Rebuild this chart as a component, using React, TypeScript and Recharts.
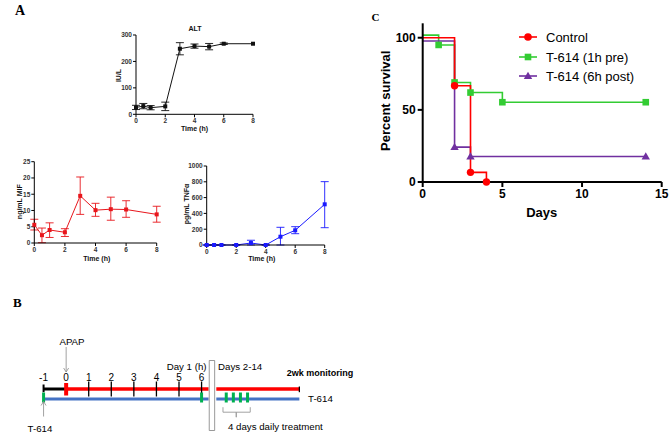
import React from "react";
import { ComposedChart, LineChart, Line, Scatter, XAxis, YAxis, ErrorBar } from "recharts";

// Panel A: time course after APAP (hours)
const hours = [0, 0.5, 1, 2, 3, 4, 5, 6, 8];
const altMean = [26, 31, 25, 30, 248, 258, 256, 267, 267];
const altSem = [8, 10, 8, 16, 23, 8, 12, 3, 0];
const mifMean = [5.6, 2.4, 4.0, 3.3, 14.5, 10.1, 10.4, 10.3, 8.8];
const mifLow = [4.0, 0.1, 1.7, 2.0, 8.8, 8.2, 7.0, 7.9, 6.4];
const mifHigh = [7.3, 4.6, 6.2, 4.4, 20.3, 12.2, 14.1, 13.0, 11.3];
const tnfMean = [0, 0, 0, 0, 25, 0, 105, 186, 515];
const tnfLow = [0, 0, 0, 0, 0, 0, 0, 143, 219];
const tnfHigh = [0, 0, 0, 0, 60, 0, 224, 232, 802];
const timeTicks = [0, 2, 4, 6, 8];

// Panel C: Kaplan-Meier survival (days, %)
const controlDays = [0, 2, 3, 4];
const controlPct = [100, 66.7, 6.7, 0];
const preDays = [0, 1, 2, 3, 5, 14];
const prePct = [101.8, 95, 69, 62, 55.3, 55.3];
const postDays = [0, 2, 3, 14];
const postPct = [97.7, 24.2, 17.7, 17.7];

// Panel B: dosing schedule
const hourTicks = [-1, 0, 1, 2, 3, 4, 5, 6];
const hourDoses = [-1, 6]; // T-614, hours
const dailyDoses = [2, 3, 4, 5]; // T-614, days
const breakStart = 6.34; // hours
const breakEnd = 6.58;
const daysStart = 0.6; // days, right after the break
const monitorEnd = 12.3;

const APAP_ROW = 1;
const T614_ROW = 0;

const SANS = "Arial, 'Liberation Sans', sans-serif";

const altRows = hours.map((h, i) => ({ h, mean: altMean[i], err: altSem[i] }));
const mifRows = hours.map((h, i) => ({
  h,
  mean: mifMean[i],
  err: [mifMean[i] - mifLow[i], mifHigh[i] - mifMean[i]],
}));
const tnfRows = hours.map((h, i) => ({
  h,
  mean: tnfMean[i],
  err: [tnfMean[i] - tnfLow[i], tnfHigh[i] - tnfMean[i]],
}));

const toRows = (days: number[], pct: number[]) => days.map((day, i) => ({ day, pct: pct[i] }));
const controlRows = toRows(controlDays, controlPct);
const preRows = toRows(preDays, prePct);
const postRows = toRows(postDays, postPct);

const squareDot = (color: string, s: number) => (p: any) => (
  <rect key={p.index} x={p.cx - s / 2} y={p.cy - s / 2} width={s} height={s} fill={color} />
);

// survival markers, skipping the starting point at day 0
const kmDot = (kind: string, color: string) => (p: any) => {
  if (p.index === 0) return <g key={p.index} />;
  if (kind === "circle") return <circle key={p.index} cx={p.cx} cy={p.cy} r={3.7} fill={color} />;
  if (kind === "square")
    return <rect key={p.index} x={p.cx - 3.3} y={p.cy - 3.3} width={6.6} height={6.6} fill={color} />;
  return (
    <path
      key={p.index}
      d={`M${p.cx},${p.cy - 4.2} L${p.cx + 4.2},${p.cy + 3} L${p.cx - 4.2},${p.cy + 3} Z`}
      fill={color}
    />
  );
};

const smallTick = { fontSize: 6.5, fill: "#333", fontWeight: "bold" as const, fontFamily: SANS };

function TimeCourse(props: any) {
  const { rows, color, yMax, yTicks, left, top, width, height, mTop, mLeft, mRight } = props;
  return (
    <div style={{ position: "absolute", left, top }}>
      <LineChart
        width={width}
        height={height}
        data={rows}
        margin={{ top: mTop, right: mRight, bottom: 0, left: mLeft }}
      >
        <XAxis
          dataKey="h"
          type="number"
          domain={[0, 8]}
          ticks={timeTicks}
          height={12}
          tickSize={3}
          tickMargin={1}
          axisLine={{ stroke: "#000" }}
          tickLine={{ stroke: "#000" }}
          tick={smallTick}
        />
        <YAxis
          type="number"
          domain={[0, yMax]}
          ticks={yTicks}
          width={30}
          tickSize={3}
          tickMargin={1}
          axisLine={{ stroke: "#000" }}
          tickLine={{ stroke: "#000" }}
          tick={smallTick}
        />
        <Line
          dataKey="mean"
          stroke={color}
          strokeWidth={1}
          isAnimationActive={false}
          dot={squareDot(color, 4)}
        >
          <ErrorBar dataKey="err" width={4} stroke={color} strokeWidth={0.9} />
        </Line>
      </LineChart>
    </div>
  );
}

const GREY = "#8a8a8a";
const arrowHead = (dir: number) => (p: any) =>
  p.index === 1 ? (
    <path
      key={p.index}
      d={`M${p.cx - 2.5},${p.cy - 4 * dir} L${p.cx},${p.cy} L${p.cx + 2.5},${p.cy - 4 * dir}`}
      fill="none"
      stroke={GREY}
      strokeWidth={0.8}
    />
  ) : (
    <g key={p.index} />
  );

const hourLabel = (p: any) => (
  <text
    x={p.cx}
    y={p.cy}
    textAnchor="middle"
    dominantBaseline="central"
    fontSize={10}
    fontFamily={SANS}
    fill="#000"
  >
    {p.payload.x}
  </text>
);

function Schedule() {
  let n = 0;
  const seg = (axis: string, pts: number[][], stroke: string, w: number, dot: any = false) => (
    <Line
      key={`s${n++}`}
      xAxisId={axis}
      data={pts.map(([x, y]) => ({ x, y }))}
      dataKey="y"
      stroke={stroke}
      strokeWidth={w}
      dot={dot}
      activeDot={false}
      isAnimationActive={false}
    />
  );
  return (
    <div style={{ position: "absolute", left: 20.73, top: 298.5 }}>
      <ComposedChart width={316} height={140} margin={{ top: 0, right: 0, bottom: 0, left: 0 }}>
        <XAxis xAxisId="h" dataKey="x" type="number" domain={[-2, 12]} hide allowDataOverflow />
        <XAxis xAxisId="d" dataKey="x" type="number" domain={[-26.91, 17.6]} hide allowDataOverflow />
        <YAxis dataKey="y" type="number" domain={[-4, 10]} hide allowDataOverflow />

        {/* APAP row: pre-treatment hour, then injury phase */}
        {seg("h", [[-1, APAP_ROW], [0, APAP_ROW]], "#000", 3)}
        {seg("h", [[0, APAP_ROW], [breakStart - 0.03, APAP_ROW]], "#ff0000", 3.5)}
        {seg("d", [[daysStart, APAP_ROW], [monitorEnd, APAP_ROW]], "#ff0000", 3.5)}
        {/* T-614 row */}
        {seg("h", [[-1, T614_ROW], [breakStart - 0.03, T614_ROW]], "#4472c4", 3)}
        {seg("d", [[daysStart, T614_ROW], [monitorEnd, T614_ROW]], "#4472c4", 3)}

        {/* hour ticks */}
        {hourTicks.filter((h) => h > 0).map((h) => seg("h", [[h, 0.25], [h, 1.75]], "#000", 1.3))}
        {seg("h", [[-1, 0.68], [-1, 1.45]], "#000", 2)}
        {seg("h", [[0, 0.35], [0, 1.6]], "#ff0000", 4)}
        {seg("d", [[monitorEnd, 0.68], [monitorEnd, 1.25]], "#000", 1.3)}

        {/* T-614 doses */}
        {hourDoses.map((h) => seg("h", [[h, -0.35], [h, 0.65]], "#00b050", 3))}
        {dailyDoses.map((d) => seg("d", [[d, -0.35], [d, 0.65]], "#00b050", 3))}

        {/* break between day 1 and days 2-14 */}
        {seg(
          "h",
          [
            [breakStart, -3.15],
            [breakEnd, -3.15],
            [breakEnd, 3.85],
            [breakStart, 3.85],
            [breakStart, -3.15],
          ],
          "#7f7f7f",
          0.8
        )}

        {/* arrows */}
        {seg("h", [[0, 5.2], [0, 2.7]], GREY, 0.8, arrowHead(1))}
        {seg("h", [[-1, -1.75], [-1, -0.25]], GREY, 0.8, arrowHead(-1))}

        {/* bracket under the daily doses */}
        {seg(
          "d",
          [
            [1.54, -0.82],
            [1.54, -1.32],
            [3.41, -1.32],
            [3.41, -1.82],
            [3.41, -1.32],
            [5.38, -1.32],
            [5.38, -0.82],
          ],
          "#999",
          0.9
        )}

        {/* hour labels */}
        <Scatter
          xAxisId="h"
          data={hourTicks.map((h) => ({ x: h, y: 2.15 }))}
          dataKey="y"
          shape={hourLabel}
          isAnimationActive={false}
        />
      </ComposedChart>
    </div>
  );
}

function Survival() {
  const axisLine = { stroke: "#000", strokeWidth: 2 };
  const tick = { fontSize: 12, fontWeight: "bold" as const, fill: "#000", fontFamily: SANS };
  return (
    <div style={{ position: "absolute", left: 370, top: 15 }}>
      <ComposedChart width={299} height={210} margin={{ top: 8.3, right: 7.3, bottom: 18, left: 22.7 }}>
        <XAxis
          dataKey="day"
          type="number"
          domain={[0, 15]}
          ticks={[0, 5, 10, 15]}
          height={25}
          tickSize={5}
          axisLine={axisLine}
          tickLine={axisLine}
          tick={tick}
          allowDuplicatedCategory={false}
        />
        <YAxis
          type="number"
          domain={[0, 110]}
          ticks={[0, 50, 100]}
          width={30}
          tickSize={5}
          axisLine={axisLine}
          tickLine={axisLine}
          tick={tick}
        />
        <Line data={preRows} dataKey="pct" type="stepAfter" stroke="#33cc33" strokeWidth={1.6} isAnimationActive={false} dot={kmDot("square", "#33cc33")} />
        <Line data={postRows} dataKey="pct" type="stepAfter" stroke="#7030a0" strokeWidth={1.6} isAnimationActive={false} dot={kmDot("triangle", "#7030a0")} />
        <Line data={controlRows} dataKey="pct" type="stepAfter" stroke="#ff0000" strokeWidth={1.6} isAnimationActive={false} dot={kmDot("circle", "#ff0000")} />
      </ComposedChart>
    </div>
  );
}

const legendItems = [
  { name: "Control", color: "#ff0000", kind: "circle", y: 37 },
  { name: "T-614 (1h pre)", color: "#33cc33", kind: "square", y: 57 },
  { name: "T-614 (6h post)", color: "#7030a0", kind: "triangle", y: 76 },
];

export default function App() {
  return (
    <div
      style={{
        position: "absolute",
        left: 0,
        top: 0,
        width: 669,
        height: 439,
        background: "#fff",
        overflow: "hidden",
        fontFamily: SANS,
      }}
    >
      <TimeCourse rows={altRows} color="#111" yMax={300} yTicks={[0, 100, 200, 300]} left={100} top={25} width={160} height={101.3} mTop={10} mLeft={6} mRight={7} />
      <TimeCourse rows={mifRows} color="#e8161c" yMax={25} yTicks={[0, 5, 10, 15, 20, 25]} left={0} top={152} width={162} height={103} mTop={9.7} mLeft={4.3} mRight={5.3} />
      <TimeCourse rows={tnfRows} color="#1a1aff" yMax={1000} yTicks={[0, 200, 400, 600, 800, 1000]} left={172} top={158} width={158} height={99} mTop={8} mLeft={4.7} mRight={5.3} />
      <Schedule />
      <Survival />

      <svg width={669} height={439} style={{ position: "absolute", left: 0, top: 0, pointerEvents: "none" }}>
        {/* panel letters */}
        <g fontFamily="'Liberation Serif', 'Times New Roman', serif" fontWeight="bold" fill="#000">
          <text x={15} y={14.5} fontSize={14}>A</text>
          <text x={13} y={307} fontSize={13}>B</text>
          <text x={371.5} y={20.5} fontSize={11}>C</text>
        </g>

        {/* panel A labels */}
        <g fontFamily={SANS} fontWeight="bold" fontSize={7} fill="#111" textAnchor="middle" dominantBaseline="central">
          <text x={195} y={28.3}>ALT</text>
          <text transform="translate(118.5,75.5) rotate(-90)">IU/L</text>
          <text x={194.5} y={128.3}>Time (h)</text>
          <text transform="translate(19.5,201.7) rotate(-90)">ng/mL MIF</text>
          <text x={96.7} y={258.7}>Time (h)</text>
          <text transform="translate(186,204) rotate(-90)">pg/mL TNFα</text>
          <text x={261.7} y={258.7}>Time (h)</text>
        </g>

        {/* panel C labels and legend */}
        <g fontFamily={SANS} fontWeight="bold" fontSize={13} fill="#000" textAnchor="middle" dominantBaseline="central">
          <text transform="translate(385,100.8) rotate(-90)">Percent survival</text>
          <text x={541.7} y={212}>Days</text>
        </g>
        {legendItems.map((it) => (
          <g key={it.name}>
            <line x1={519} x2={537} y1={it.y} y2={it.y} stroke={it.color} strokeWidth={1.6} />
            {it.kind === "circle" && <circle cx={528} cy={it.y} r={3.8} fill={it.color} />}
            {it.kind === "square" && <rect x={524.7} y={it.y - 3.3} width={6.6} height={6.6} fill={it.color} />}
            {it.kind === "triangle" && (
              <path d={`M528,${it.y - 4.2} L532.2,${it.y + 3} L523.8,${it.y + 3} Z`} fill={it.color} />
            )}
            <text x={546} y={it.y} fontSize={13} fontFamily={SANS} fill="#000" dominantBaseline="central">
              {it.name}
            </text>
          </g>
        ))}

        {/* panel B labels */}
        <g fontFamily={SANS} fontSize={9.7} fill="#000" dominantBaseline="central">
          <text x={72} y={341.7} textAnchor="middle">APAP</text>
          <text x={166.7} y={366}>Day 1 (h)</text>
          <text x={218} y={366}>Days 2-14</text>
          <text x={286.7} y={373.3} fontWeight="bold" fontSize={9}>2wk monitoring</text>
          <text x={308} y={398.5}>T-614</text>
          <text x={40} y={428} textAnchor="middle">T-614</text>
          <text x={228} y={426}>4 days daily treatment</text>
        </g>
      </svg>
    </div>
  );
}
